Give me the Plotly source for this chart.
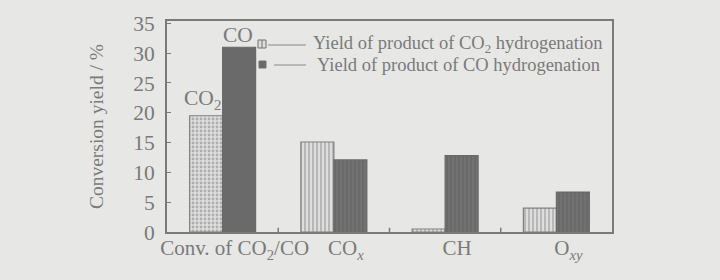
import plotly.graph_objects as go

categories = ["Conv. of CO<sub>2</sub>/CO", "CO<sub><i>x</i></sub>", "CH", "O<sub><i>xy</i></sub>"]
co2_hydrogenation = [19.5, 15.1, 0.5, 4.0]
co_hydrogenation = [31.0, 12.1, 12.8, 6.7]
series_names = ["Yield of product of CO<sub>2</sub> hydrogenation",
                "Yield of product of CO hydrogenation"]
y_ticks = [0, 5, 10, 15, 20, 25, 30, 35]

BG = "#e7e7e5"
INK = "#7a7a7a"
FONT = "Liberation Serif"
LIGHT = "#dedede"
DARK = "#6a6a6a"

# plot frame in pixels (for placing the hand-drawn legend)
L, R, T, B = 167, 612, 21, 232
def px_x(p):
    return (p - L) / (R - L)
def px_y(p):
    return (B - p) / (B - T)

fig = go.Figure()
fig.add_trace(go.Bar(
    x=categories, y=co2_hydrogenation, name=series_names[0], showlegend=False,
    marker=dict(color=LIGHT, line=dict(color="#808080", width=1.2),
                pattern=dict(shape=[".", "|", "|", "|"], fgcolor="#7e7e7e",
                             bgcolor=LIGHT, size=4, solidity=0.4)),
))
fig.add_trace(go.Bar(
    x=categories, y=co_hydrogenation, name=series_names[1], showlegend=False,
    marker=dict(color=DARK, line=dict(color=DARK, width=1.2),
                pattern=dict(shape=["", "|", "|", "|"], fgcolor="#8a8a8a",
                             bgcolor=DARK, size=4, solidity=0.25)),
))

fig.add_annotation(x=categories[0], y=co2_hydrogenation[0], text="CO<sub>2</sub>",
                   xshift=-20, yshift=1, yanchor="bottom", showarrow=False,
                   font=dict(family=FONT, size=21.5, color=INK))
fig.add_annotation(x=categories[0], y=co_hydrogenation[0], text="CO",
                   xshift=15, yshift=-2, yanchor="bottom", showarrow=False,
                   font=dict(family=FONT, size=21.5, color=INK))

# hand-drawn legend: small key square, dash line, text
legend_rows = [
    dict(key=(258, 266, 40, 48), fill=LIGHT, dash=(268, 306), text_x=311, y=45),
    dict(key=(259, 266, 61, 68), fill=DARK, dash=(274, 306), text_x=315, y=65),
]
for row, name in zip(legend_rows, series_names):
    x0, x1, y0, y1 = row["key"]
    fig.add_shape(type="rect", xref="paper", yref="paper",
                  x0=px_x(x0), x1=px_x(x1), y0=px_y(y1), y1=px_y(y0),
                  fillcolor=row["fill"], line=dict(color="#707070", width=1))
    if row["fill"] == LIGHT:
        fig.add_shape(type="line", xref="paper", yref="paper",
                      x0=px_x((x0 + x1) / 2), x1=px_x((x0 + x1) / 2),
                      y0=px_y(y1), y1=px_y(y0), line=dict(color="#707070", width=1))
    fig.add_shape(type="line", xref="paper", yref="paper",
                  x0=px_x(row["dash"][0]), x1=px_x(row["dash"][1]),
                  y0=px_y(row["y"]), y1=px_y(row["y"]),
                  line=dict(color="#8a8a8a", width=1))
    fig.add_annotation(xref="paper", yref="paper", x=px_x(row["text_x"]), y=px_y(row["y"]),
                       xanchor="left", yanchor="middle", text=name, showarrow=False,
                       font=dict(family=FONT, size=18.5, color=INK))

fig.update_layout(
    width=720, height=280,
    margin=dict(l=L, r=720 - R, t=T, b=280 - B),
    paper_bgcolor=BG, plot_bgcolor=BG,
    barmode="group", bargap=0.407, bargroupgap=0,
    font=dict(family=FONT, size=18, color=INK),
    showlegend=False,
    xaxis=dict(type="category", showline=True, linecolor=INK, linewidth=2, mirror=True,
               ticks="", showgrid=False, ticklabelshift=12, ticklabelstandoff=-4,
               tickfont=dict(family=FONT, size=21, color=INK)),
    yaxis=dict(range=[0, 35.4], tickvals=y_ticks, showline=True, linecolor=INK,
               linewidth=2, mirror=True, ticks="inside", ticklen=4, tickcolor=INK,
               showgrid=False, zeroline=False, ticklabelstandoff=6,
               tickfont=dict(family=FONT, size=21.5, color=INK),
               title=dict(text="Conversion yield / %", standoff=24,
                          font=dict(family=FONT, size=19.5, color=INK))),
)

# category boundary ticks on the bottom axis (inside)
for i in range(1, len(categories)):
    fig.add_shape(type="line", xref="x", yref="paper", x0=i - 0.5, x1=i - 0.5,
                  y0=0, y1=0.02, line=dict(color=INK, width=1.5))

fig.write_html("out.html")
